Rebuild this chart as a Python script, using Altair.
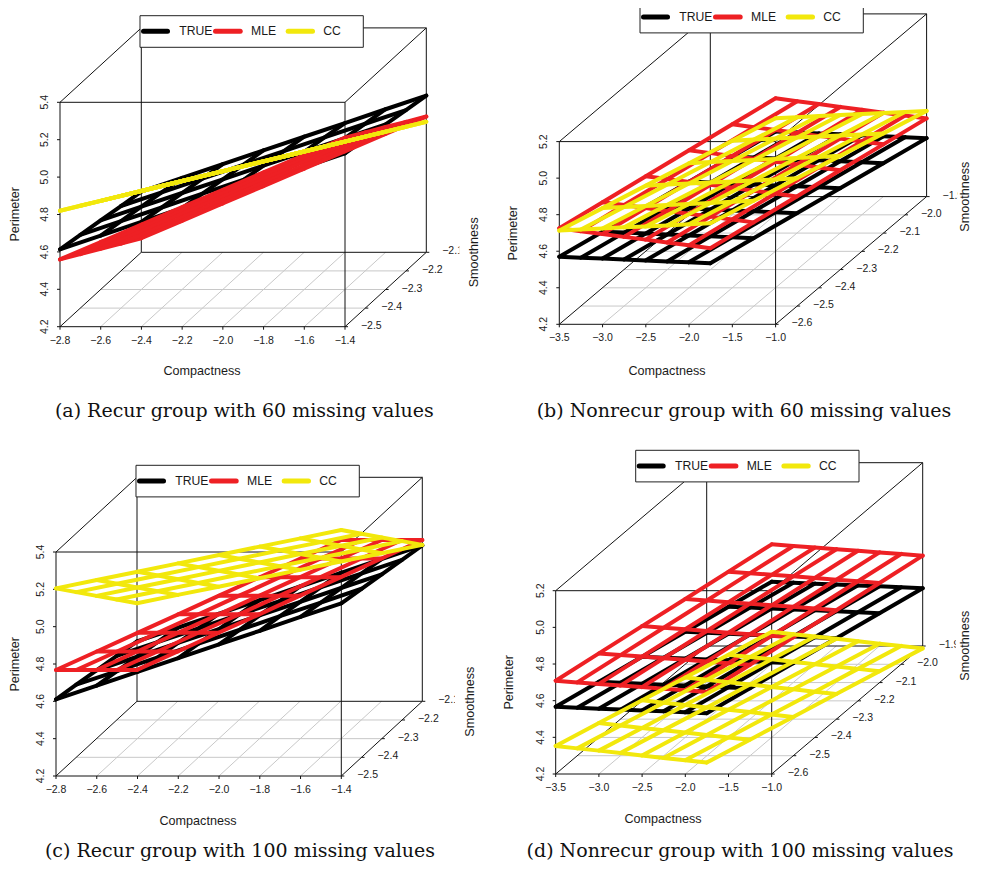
import altair as alt
import pandas as pd

# axis values of the two kinds of panel
x_a = [-2.8,-2.6,-2.4,-2.2,-2.0,-1.8,-1.6,-1.4]
y_a = [-2.5,-2.4,-2.3,-2.2,-2.1]
z_a = [4.2,4.4,4.6,4.8,5.0,5.2,5.4]
x_b = [-3.5,-3.0,-2.5,-2.0,-1.5,-1.0]
y_b = [-2.6,-2.5,-2.4,-2.3,-2.2,-2.1,-2.0,-1.9]
z_b = [4.2,4.4,4.6,4.8,5.0,5.2]

# fitted perimeter, one row per smoothness tick, one value per compactness tick
a_true = [[4.614,4.687,4.761,4.834,4.907,4.980,5.054,5.127],
          [4.592,4.665,4.738,4.812,4.885,4.958,5.031,5.105],
          [4.570,4.643,4.716,4.789,4.863,4.936,5.009,5.083],
          [4.547,4.620,4.694,4.767,4.840,4.914,4.987,5.060],
          [4.525,4.598,4.672,4.745,4.818,4.891,4.965,5.038]]
a_mle = [[4.560,4.653,4.746,4.839,4.932,5.025,5.118,5.211],
         [4.489,4.582,4.675,4.768,4.861,4.954,5.047,5.140],
         [4.418,4.511,4.604,4.697,4.790,4.883,4.976,5.069],
         [4.346,4.439,4.532,4.625,4.718,4.811,4.904,4.997],
         [4.275,4.368,4.461,4.554,4.647,4.740,4.833,4.926]]
a_cc = [[4.820,4.873,4.926,4.979,5.031,5.084,5.137,5.190],
        [4.747,4.800,4.853,4.906,4.958,5.011,5.064,5.117],
        [4.674,4.727,4.780,4.833,4.885,4.938,4.991,5.044],
        [4.601,4.654,4.707,4.760,4.812,4.865,4.918,4.971],
        [4.528,4.581,4.634,4.687,4.739,4.792,4.845,4.898]]
c_true = [[4.611,4.684,4.758,4.831,4.905,4.978,5.052,5.125],
          [4.589,4.662,4.735,4.809,4.882,4.956,5.029,5.103],
          [4.566,4.639,4.713,4.786,4.860,4.933,5.007,5.080],
          [4.544,4.617,4.690,4.764,4.837,4.911,4.984,5.058],
          [4.521,4.594,4.668,4.741,4.815,4.888,4.962,5.035]]
c_mle = [[4.768,4.867,4.967,5.066,5.166,5.265,5.365,5.464],
         [4.668,4.767,4.867,4.966,5.066,5.165,5.265,5.364],
         [4.568,4.667,4.767,4.866,4.966,5.065,5.165,5.264],
         [4.468,4.567,4.667,4.766,4.866,4.965,5.065,5.164],
         [4.368,4.467,4.567,4.666,4.766,4.865,4.965,5.064]]
c_cc = [[5.205,5.250,5.294,5.339,5.384,5.429,5.473,5.518],
        [5.085,5.130,5.174,5.219,5.264,5.309,5.353,5.398],
        [4.965,5.010,5.054,5.099,5.144,5.189,5.233,5.278],
        [4.845,4.890,4.934,4.979,5.024,5.069,5.113,5.158],
        [4.725,4.770,4.814,4.859,4.904,4.949,4.993,5.038]]
b_true = [[4.570,4.707,4.844,4.981,5.118,5.255],
          [4.465,4.602,4.739,4.876,5.013,5.150],
          [4.360,4.497,4.634,4.771,4.908,5.045],
          [4.255,4.392,4.529,4.666,4.803,4.940],
          [4.150,4.287,4.424,4.561,4.698,4.835],
          [4.045,4.182,4.319,4.456,4.593,4.730],
          [3.940,4.077,4.214,4.351,4.488,4.625],
          [3.835,3.972,4.109,4.246,4.383,4.520]]
b_mle = [[4.726,4.868,5.010,5.153,5.295,5.437],
         [4.610,4.753,4.895,5.037,5.179,5.321],
         [4.495,4.637,4.779,4.921,5.064,5.206],
         [4.379,4.521,4.664,4.806,4.948,5.090],
         [4.264,4.406,4.548,4.690,4.832,4.975],
         [4.148,4.290,4.432,4.575,4.717,4.859],
         [4.033,4.175,4.317,4.459,4.601,4.744],
         [3.917,4.059,4.201,4.344,4.486,4.628]]
b_cc = [[4.713,4.836,4.959,5.082,5.205,5.328],
        [4.619,4.742,4.865,4.988,5.111,5.234],
        [4.525,4.648,4.771,4.894,5.017,5.140],
        [4.431,4.554,4.677,4.800,4.923,5.046],
        [4.336,4.459,4.582,4.705,4.828,4.951],
        [4.242,4.365,4.488,4.611,4.734,4.857],
        [4.148,4.271,4.394,4.517,4.640,4.763],
        [4.054,4.177,4.300,4.423,4.546,4.669]]
d_true = [[4.567,4.703,4.840,4.976,5.113,5.249],
          [4.462,4.598,4.735,4.871,5.008,5.144],
          [4.357,4.493,4.630,4.766,4.903,5.039],
          [4.252,4.388,4.525,4.661,4.798,4.934],
          [4.148,4.284,4.421,4.557,4.694,4.830],
          [4.043,4.179,4.316,4.452,4.589,4.725],
          [3.938,4.074,4.211,4.347,4.484,4.620],
          [3.833,3.969,4.106,4.242,4.379,4.515]]
d_mle = [[4.709,4.858,5.007,5.155,5.304,5.453],
         [4.600,4.749,4.898,5.047,5.196,5.344],
         [4.492,4.641,4.790,4.938,5.087,5.236],
         [4.383,4.532,4.681,4.830,4.979,5.127],
         [4.275,4.424,4.572,4.721,4.870,5.019],
         [4.166,4.315,4.464,4.613,4.761,4.910],
         [4.058,4.206,4.355,4.504,4.653,4.802],
         [3.949,4.098,4.247,4.395,4.544,4.693]]
d_cc = [[4.353,4.478,4.602,4.727,4.851,4.976],
        [4.240,4.365,4.489,4.614,4.738,4.863],
        [4.128,4.252,4.377,4.501,4.626,4.751],
        [4.015,4.140,4.264,4.389,4.513,4.638],
        [3.902,4.027,4.151,4.276,4.400,4.525],
        [3.789,3.914,4.039,4.163,4.288,4.412],
        [3.677,3.801,3.926,4.050,4.175,4.300],
        [3.564,3.689,3.813,3.938,4.062,4.187]]

planes = {
 'a': {'TRUE':a_true,'MLE':a_mle,'CC':a_cc},
 'b': {'TRUE':b_true,'MLE':b_mle,'CC':b_cc},
 'c': {'TRUE':c_true,'MLE':c_mle,'CC':c_cc},
 'd': {'TRUE':d_true,'MLE':d_mle,'CC':d_cc},
}
captions = {'a':'(a) Recur group with 60 missing values','b':'(b) Nonrecur group with 60 missing values',
            'c':'(c) Recur group with 100 missing values','d':'(d) Nonrecur group with 100 missing values'}

# oblique projection and text placement of each panel, in page pixels
geom = {
 'a': dict(o=(60,326.7),X=285,D=(81.3,-74.4),Z=224.4,xs=x_a,ys=y_a,zs=z_a,leg=(0,0),comp=(202,370.7),per=(15,214.3),smo=(474.3,252.3),cap=(244.3,410.7),clip=459.3),
 'b': dict(o=(559.3,324.3),X=216.3,D=(151,-127.7),Z=182.7,xs=x_b,ys=y_b,zs=z_b,leg=(500,-14.4),comp=(667,370.7),per=(513.3,233.3),smo=(965,196.7),cap=(744,410.7),clip=958),
 'c': dict(o=(56,776),X=285.3,D=(81,-74.7),Z=224,xs=x_a,ys=y_a,zs=z_a,leg=(-4,449.6),comp=(198,820.7),per=(15,664.3),smo=(470.3,701.7),cap=(240,851),clip=455),
 'd': dict(o=(555.7,774),X=216,D=(151,-128),Z=183.3,xs=x_b,ys=y_b,zs=z_b,leg=(495.7,434.6),comp=(663,819.3),per=(509.3,682.3),smo=(965,645.7),cap=(740,851),clip=955.7),
}
colors = {'TRUE':'#000000','MLE':'#ee2024','CC':'#f2e80c'}
BOX='#111111'; GRID='#c8c8c8'

def proj(g,x,y,z):
    xs,ys,zs=g['xs'],g['ys'],g['zs']
    fx=(x-xs[0])/(xs[-1]-xs[0]); fy=(y-ys[0])/(ys[-1]-ys[0]); fz=(z-zs[0])/(zs[-1]-zs[0])
    return (g['o'][0]+fx*g['X']+fy*g['D'][0], g['o'][1]+fy*g['D'][1]-fz*g['Z'])

X=alt.X('px:Q',scale=alt.Scale(domain=[8,971]),axis=None)
Y=alt.Y('py:Q',scale=alt.Scale(domain=[862,8]),axis=None)
X2=alt.X2('px2:Q'); Y2=alt.Y2('py2:Q')
layers=[]
def rules(rows,color,w=1):
    return alt.Chart(pd.DataFrame(rows,columns=['px','py','px2','py2'])).mark_rule(color=color,strokeWidth=w).encode(x=X,y=Y,x2=X2,y2=Y2)
def texts(rows,size,angle=0,font='Liberation Sans',color='#1a1a1a'):
    return alt.Chart(pd.DataFrame(rows,columns=['px','py','t'])).mark_text(fontSize=size,angle=angle,font=font,color=color,align='center',baseline='middle').encode(x=X,y=Y,text='t:N')

for p,g in geom.items():
    xs,ys,zs=g['xs'],g['ys'],g['zs']
    x0,x1,y0,y1,z0,z1=xs[0],xs[-1],ys[0],ys[-1],zs[0],zs[-1]
    grid=[]
    for x in xs[1:-1]:
        grid.append((*proj(g,x,y0,z0),*proj(g,x,y1,z0)))
    for y in ys[1:-1]:
        grid.append((*proj(g,x0,y,z0),*proj(g,x1,y,z0)))
    layers.append(rules(grid,GRID))
    box=[]
    edges=[((x0,y0,z0),(x1,y0,z0)),((x0,y1,z0),(x1,y1,z0)),((x0,y0,z1),(x1,y0,z1)),((x0,y1,z1),(x1,y1,z1)),
           ((x0,y0,z0),(x0,y1,z0)),((x1,y0,z0),(x1,y1,z0)),((x0,y0,z1),(x0,y1,z1)),((x1,y0,z1),(x1,y1,z1)),
           ((x0,y0,z0),(x0,y0,z1)),((x1,y0,z0),(x1,y0,z1)),((x0,y1,z0),(x0,y1,z1)),((x1,y1,z0),(x1,y1,z1))]
    for a,b in edges:
        box.append((*proj(g,*a),*proj(g,*b)))
    ticks=[]
    for x in xs:
        q=proj(g,x,y0,z0); ticks.append((q[0],q[1],q[0],q[1]+3))
    for z in zs:
        q=proj(g,x0,y0,z); ticks.append((q[0]-3,q[1],q[0],q[1]))
    for y in ys:
        q=proj(g,x1,y,z0); ticks.append((q[0],q[1],q[0]+3,q[1]))
    layers.append(rules(box+ticks,BOX))
    rows=[]
    for x in xs:
        q=proj(g,x,y0,z0); rows.append((q[0],q[1]+14,f'{x:.1f}'.replace('-','\u2212')))
    for y in ys:
        q=proj(g,x1,y,z0); rows.append((q[0]+26.3,q[1]-1,f'{y:.1f}'.replace('-','\u2212')))
    layers.append(texts(rows,10.5))
    rows=[]
    for z in zs:
        q=proj(g,x0,y0,z); rows.append((q[0]-15,q[1],f'{z:.1f}'))
    layers.append(texts(rows,10.5,angle=270))
    # white patch: the reference crops the last depth label here
    by=proj(g,x1,y1,z0)[1]
    layers.append(alt.Chart(pd.DataFrame([(g['clip'],by-8,g['clip']+7.5,by+6)],columns=['px','py','px2','py2'])).mark_rect(color='white').encode(x=X,y=Y,x2=X2,y2=Y2))
    # wireframe planes
    for s,table in planes[p].items():
        rows=[]
        for j,y in enumerate(ys):
            for i,x in enumerate(xs):
                q=proj(g,x,y,table[j][i])
                rows.append(dict(px=q[0],py=q[1],line=f'x{i}',o=j))
                rows.append(dict(px=q[0],py=q[1],line=f'y{j}',o=i))
        layers.append(alt.Chart(pd.DataFrame(rows)).mark_line(strokeWidth=4,strokeCap='round',strokeJoin='round',color=colors[s]).encode(x=X,y=Y,detail='line:N',order='o:Q'))
    # legend
    lx,ly=g['leg']
    layers.append(alt.Chart(pd.DataFrame([(140+lx,15.7+ly,363.3+lx,47.3+ly)],columns=['px','py','px2','py2'])).mark_rect(fill='white',stroke='#222222',strokeWidth=1).encode(x=X,y=Y,x2=X2,y2=Y2))
    for s,a,b in [('TRUE',143.5,167.5),('MLE',215.5,240.2),('CC',288.2,312.5)]:
        layers.append(alt.Chart(pd.DataFrame([dict(px=a+lx,py=31.3+ly),dict(px=b+lx,py=31.3+ly)])).mark_line(strokeWidth=5,strokeCap='round',color=colors[s]).encode(x=X,y=Y))
    layers.append(alt.Chart(pd.DataFrame([(179.3+lx,31.3+ly,'TRUE'),(251+lx,31.3+ly,'MLE'),(323.3+lx,31.3+ly,'CC')],columns=['px','py','t'])).mark_text(fontSize=12.2,font='Liberation Sans',color='#1a1a1a',align='left',baseline='middle').encode(x=X,y=Y,text='t:N'))
    # titles and caption
    layers.append(texts([(*g['comp'],'Compactness')],12.6))
    layers.append(texts([(*g['per'],'Perimeter'),(*g['smo'],'Smoothness')],12.6,angle=270))
    layers.append(texts([(*g['cap'],captions[p])],19,font='DejaVu Serif',color='#111111'))

chart=alt.layer(*layers).properties(width=963,height=854,padding=0,autosize=alt.AutoSizeParams(type='none')).configure_view(stroke=None)
chart.save("out.html", embed_options={"renderer": "svg", "actions": False})
